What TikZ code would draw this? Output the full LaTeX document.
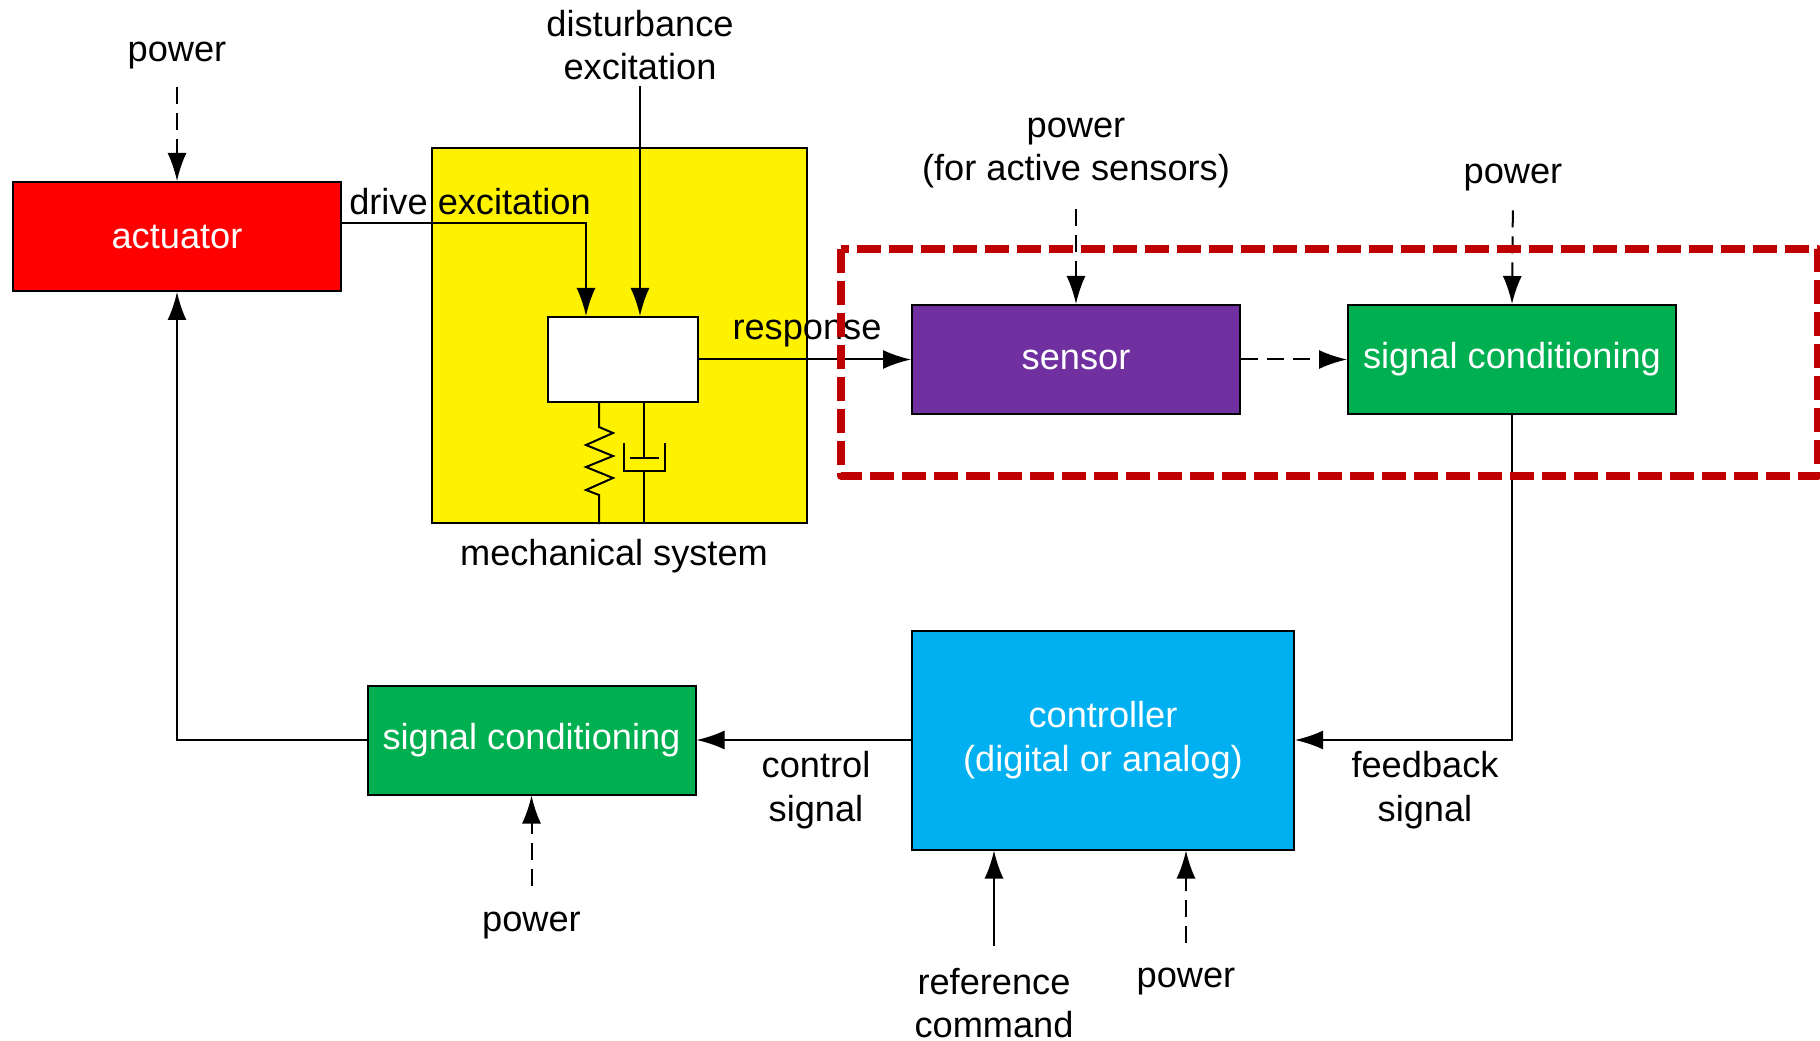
\documentclass[tikz,border=0pt]{standalone}
\usepackage{fontspec}
\setmainfont{Liberation Sans}
\usetikzlibrary{arrows.meta}

\tikzset{
  blockbox/.style={draw, line width=0.4mm, minimum width=6.56cm, minimum height=2.18cm, inner sep=0pt, text=white},
  labeltext/.style={inner sep=0pt, align=center},
  powerline/.style={->, dash pattern=on 0.34cm off 0.18cm}
}

\begin{document}
\begin{tikzpicture}[line width=0.4mm, >={Latex[length=5.6mm,width=3.8mm]},
    font=\fontsize{20.6}{24.8}\selectfont]
        \useasboundingbox (0,0) rectangle (36.4,20.8);

        % mechanical system
        \node[draw, fill=yellow, minimum width=7.5cm, minimum height=7.5cm] (mech) at (12.39,14.09) {};
        \node[draw, fill=white, minimum width=3cm, minimum height=1.7cm] (mass) at (12.46,13.61) {};
        \coordinate (springx) at (11.98,0);
        \coordinate (damperx) at (12.88,0);
        \draw (mass.south -| springx) -- (11.98,12.26) -- (12.26,12.14) -- (11.72,11.9) -- (12.26,11.68)
              -- (11.72,11.46) -- (12.26,11.24) -- (11.72,11) -- (11.98,10.9) -- (mech.south -| springx);
        \draw (mass.south -| damperx) -- (12.88,11.64);
        \draw (12.6,11.64) -- (13.18,11.64);
        \draw (12.47,11.94) -- (12.47,11.38) -- (13.3,11.38) -- (13.3,11.94);
        \draw (12.88,11.38) -- (mech.south -| damperx);

        % blocks
        \node[blockbox, fill=red] (actuator) at (3.54,16.07) {actuator};
        \node[blockbox, fill={rgb,255:red,112;green,48;blue,160}] (sensor) at (21.52,13.61) {sensor};
        \node[blockbox, fill={rgb,255:red,0;green,176;blue,80}] (sigout) at (30.24,13.61) {signal conditioning};
        \node[blockbox, fill={rgb,255:red,0;green,176;blue,80}] (sigin) at (10.63,6) {signal conditioning};
        \node[blockbox, fill={rgb,255:red,0;green,176;blue,240}, minimum width=7.64cm, minimum height=4.38cm, align=center] (controller) at (22.06,6) {controller\\(digital or analog)};

        % labels
        \node[labeltext] (poweract) at (3.54,19.68) {power};
        \node[labeltext] (disturb) at (12.8,19.9) {disturbance\\excitation};
        \node[labeltext] (drive) at (9.4,16.76) {drive excitation};
        \node[labeltext] (response) at (16.14,14.12) {response};
        \node[labeltext] (mechname) at (12.28,9.68) {mechanical system};
        \node[labeltext] (powersensor) at (21.52,17.74) {power\\(for active sensors)};
        \node[labeltext] (powersig) at (30.26,17.24) {power};
        \node[labeltext] (feedback) at (28.5,5) {feedback\\signal};
        \node[labeltext] (control) at (16.32,5) {control\\signal};
        \node[labeltext] (powerin) at (10.63,2.28) {power};
        \node[labeltext] (refcmd) at (19.88,0.74) {reference\\command};
        \node[labeltext] (powerctl) at (23.72,1.16) {power};

        % connectors
        \coordinate (drivecorner) at (11.72,16.34);
        \draw[->] (actuator.east |- drivecorner) -- (drivecorner) -- (mass.north -| drivecorner);
        \draw[->, shorten <=0.1cm] (disturb.south) -- (mass.north -| disturb.south);
        \draw[->] (mass.east) -- (sensor.west);
        \draw[powerline] (sensor.east) -- (sigout.west);
        \draw[->] (sigout.south) |- (controller.east);
        \draw[->] (controller.west) -- (sigin.east);
        \draw[->] (sigin.west) -| (actuator.south);
        \draw[powerline, shorten <=0.34cm] (poweract.south) -- (actuator.north);
        \draw[powerline, shorten <=0.4cm] (powersensor.south) -- (sensor.north);
        \draw[powerline, shorten <=0.36cm] (powersig.south) -- (sigout.north);
        \draw[powerline, shorten <=0.52cm] (powerin.north) -- (sigin.south);
        \coordinate (refx) at (19.88,0);
        \coordinate (powerx) at (23.72,0);
        \draw[->, shorten <=0.42cm] (refcmd.north) -- (controller.south -| refx);
        \draw[powerline, shorten <=0.5cm] (powerctl.north) -- (controller.south -| powerx);

        % sensing chain outline
        \draw[line width=1.5mm, color={rgb,255:red,192;green,0;blue,0}, line join=round, dash pattern=on 0.48cm off 0.16cm]
              (16.82,15.82) rectangle (36.36,11.28);
\end{tikzpicture}
\end{document}
